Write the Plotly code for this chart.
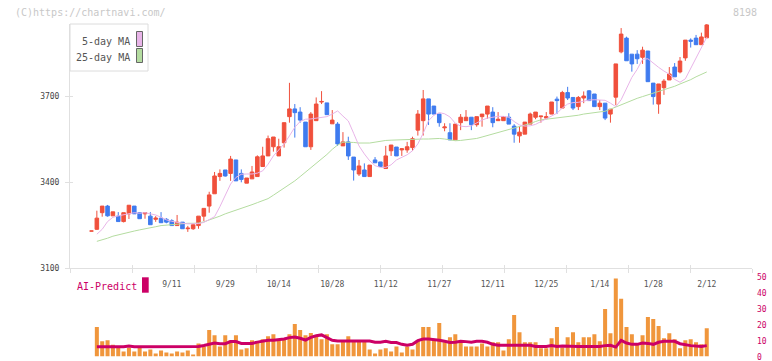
import plotly.graph_objects as go

# ---------------- data ----------------
tick_idx = [15, 25, 35, 45, 55, 65, 75, 85, 95, 105, 115]
tick_labels = ['9/11', '9/29', '10/14', '10/28', '11/12', '11/27', '12/11', '12/25', '1/14', '1/28', '2/12']

open_ = [3230,3236,3294,3317,3283,3282,3263,3290,3317,3294,
         3290,3282,3271,3275,3271,3266,3249,3261,3238,3238,
         3249,3282,3317,3360,3420,3443,3431,3478,3431,3397,
         3412,3420,3455,3492,3524,3492,3538,3629,3656,3645,
         3610,3524,3615,3680,3677,3604,3603,3527,3541,3488,
         3429,3443,3420,3478,3471,3448,3510,3523,3513,3513,
         3521,3582,3615,3691,3666,3638,3590,3573,3548,3608,
         3615,3627,3601,3629,3638,3645,3615,3615,3627,3596,
         3562,3568,3603,3627,3629,3624,3638,3690,3659,3713,
         3696,3664,3694,3719,3708,3664,3676,3638,3697,3855,
         3903,3847,3847,3836,3858,3746,3673,3730,3757,3802,
         3785,3834,3896,3903,3880,3904]
close = [3230,3275,3317,3283,3297,3263,3294,3320,3290,3273,
         3294,3252,3275,3259,3261,3249,3261,3238,3240,3252,
         3282,3309,3356,3422,3431,3422,3481,3405,3410,3415,
         3436,3489,3492,3552,3558,3524,3608,3656,3643,3617,
         3524,3638,3673,3682,3636,3617,3534,3541,3492,3443,
         3457,3420,3460,3468,3455,3492,3530,3492,3517,3524,
         3552,3638,3691,3638,3638,3608,3593,3548,3603,3627,
         3627,3601,3629,3638,3666,3608,3620,3629,3603,3568,
         3575,3610,3638,3645,3631,3629,3680,3685,3713,3694,
         3659,3696,3701,3685,3664,3676,3624,3655,3813,3917,
         3824,3813,3831,3861,3751,3699,3743,3753,3778,3768,
         3823,3896,3892,3880,3907,3949]
high = [3230,3301,3317,3321,3297,3296,3294,3320,3317,3294,
        3294,3296,3282,3296,3275,3271,3286,3261,3248,3257,
        3282,3309,3367,3436,3445,3443,3492,3478,3445,3415,
        3457,3494,3524,3563,3558,3552,3608,3747,3673,3662,
        3610,3645,3696,3718,3677,3652,3610,3575,3559,3488,
        3478,3466,3460,3488,3471,3527,3530,3523,3519,3541,
        3559,3652,3722,3691,3666,3638,3606,3606,3603,3638,
        3652,3627,3629,3638,3666,3662,3645,3629,3641,3603,
        3596,3610,3643,3645,3631,3645,3680,3699,3719,3733,
        3696,3701,3717,3722,3708,3687,3676,3655,3813,3938,
        3908,3847,3861,3873,3858,3746,3743,3760,3802,3816,
        3837,3896,3902,3914,3922,3952]
low = [3230,3234,3280,3280,3283,3263,3260,3272,3290,3273,
       3273,3252,3262,3259,3257,3249,3249,3238,3227,3234,
       3238,3265,3294,3360,3405,3420,3405,3405,3400,3397,
       3412,3420,3455,3492,3507,3492,3521,3608,3556,3608,
       3524,3513,3615,3673,3636,3604,3527,3527,3478,3406,
       3422,3420,3420,3468,3455,3448,3492,3492,3492,3503,
       3510,3563,3563,3600,3638,3594,3578,3548,3548,3582,
       3615,3582,3594,3594,3622,3592,3615,3615,3603,3538,
       3538,3568,3603,3620,3608,3620,3638,3638,3659,3687,
       3652,3652,3676,3685,3664,3652,3617,3608,3669,3850,
       3824,3786,3813,3813,3751,3671,3639,3705,3757,3768,
       3780,3824,3870,3880,3880,3904]

# moving averages / volume / AI-predict start at the second candle
ma5 = [3219,3236,3263,3278,3283,3287,3292,3294,3292,3294,
       3290,3286,3278,3269,3264,3260,3257,3255,3255,3256,
       3260,3269,3280,3315,3356,3394,3417,3428,3429,3429,
       3432,3440,3463,3492,3513,3534,3562,3592,3612,3620,
       3621,3623,3625,3629,3638,3649,3631,3614,3571,3527,
       3499,3475,3458,3452,3452,3461,3478,3487,3496,3510,
       3534,3571,3615,3634,3643,3639,3628,3606,3596,3594,
       3597,3607,3617,3624,3628,3630,3630,3627,3612,3600,
       3596,3597,3602,3612,3620,3629,3641,3659,3673,3678,
       3679,3683,3687,3688,3687,3686,3676,3664,3688,3728,
       3766,3794,3829,3831,3815,3801,3788,3777,3759,3749,
       3761,3797,3836,3867,3906]
ma25 = [3194,3199,3205,3212,3217,3222,3227,3230,3234,3237,
        3241,3245,3249,3251,3253,3255,3256,3257,3257,3258,
        3262,3268,3274,3282,3290,3296,3302,3309,3316,3322,
        3329,3335,3343,3355,3367,3380,3393,3405,3420,3435,
        3450,3464,3480,3497,3515,3530,3540,3540,3539,3537,
        3536,3537,3540,3544,3546,3547,3548,3549,3550,3550,
        3550,3551,3551,3552,3553,3551,3548,3545,3546,3548,
        3550,3553,3558,3563,3568,3574,3580,3585,3590,3594,
        3599,3605,3612,3618,3620,3622,3624,3626,3628,3630,
        3634,3638,3641,3643,3645,3648,3655,3663,3670,3678,
        3686,3693,3699,3705,3710,3716,3722,3728,3735,3743,
        3750,3758,3768,3777,3785]
volume = [18.4,9.5,10.1,7.4,5.5,3.2,5.5,3.2,5.5,3.2,
          4.4,1.9,3.8,2.5,1.9,3.2,2.5,3.8,1.3,8.2,
          6.3,16.5,13.3,6.3,13.3,10.1,13.3,4.4,5.1,10.1,
          8.9,10.8,12.7,13.9,10.8,11.4,13.9,20.3,16.5,13.3,
          14.7,13.0,10.8,13.9,7.6,7.6,9.5,12.7,9.5,9.5,
          9.5,4.4,1.9,4.4,5.1,3.2,6.3,2.5,6.3,4.4,
          10.1,18.4,18.4,10.1,20.9,8.9,12.0,13.9,8.9,6.3,
          6.3,6.3,8.2,6.3,8.9,8.9,3.8,10.8,25.9,15.2,
          8.9,8.9,8.9,5.1,5.1,11.4,18.4,5.7,12.0,15.2,
          8.9,12.0,12.0,13.9,9.5,29.7,14.6,48.7,36.1,18.4,
          13.9,7.6,13.3,24.7,23.4,19.0,11.4,14.6,10.8,5.1,
          10.1,10.8,8.9,7.6,17.7]
ai_predict = [6.1,6.1,6.1,6.1,6.1,6.1,6.6,6.1,6.1,6.1,
              6.1,6.1,6.1,6.1,6.1,6.1,6.1,6.1,6.1,6.3,
              6.9,7.8,8.4,8.0,8.0,9.3,9.3,8.2,8.0,8.2,
              9.0,9.7,10.1,10.1,10.3,10.9,11.8,12.2,11.4,10.3,
              12.0,13.0,13.5,11.8,10.1,9.7,9.7,9.7,9.7,9.7,
              9.7,9.7,8.9,8.9,9.5,8.7,8.7,7.6,7.0,7.6,
              9.9,10.9,10.9,10.7,10.1,9.5,8.7,8.9,9.5,9.3,
              8.9,9.5,9.5,8.9,7.6,7.0,7.0,7.0,7.0,7.0,
              7.0,7.0,6.3,6.3,6.3,6.8,6.3,6.5,6.3,6.3,
              6.3,6.3,6.3,6.3,6.3,6.8,7.0,5.9,10.1,8.4,
              7.6,7.6,8.4,8.2,7.6,8.9,9.5,9.5,9.5,8.0,
              7.2,6.8,6.5,6.3,6.8]

price_ticks = [3100, 3400, 3700]
volume_ticks = [0, 10, 20, 30, 40, 50]

# ---------------- layout helpers (pixel geometry) ----------------
W, H = 772, 361
X0, X1 = 70, 752            # plot left / right in px
Y_TOP, Y_BOT = 24, 268.3    # price panel
V_TOP, V_BOT = 276.5, 356.5  # volume panel (50 .. 0)
IDX0_PX, STEP_PX = 91.5, 5.35

def fx(p):
    return p / W

def fy(p):
    return 1 - p / H

xr = [(X0 - IDX0_PX) / STEP_PX, (X1 - IDX0_PX) / STEP_PX]
mark_pos = [(X0 + 62 * k - IDX0_PX) / STEP_PX for k in range(12)]
yr = [3100, 3100 + (Y_BOT - Y_TOP) * 300 / 86]

n = len(close)
xs = list(range(n))
xs_sub = xs[1:]

RED = '#F0503C'
BLUE = '#3F7BEF'
PINK = '#E8B4E8'
GREEN = '#B4DCA0'
ORANGE = '#F0963C'
MAG = '#CC0066'
AX = '#E0E0E0'
MONO = 'DejaVu Sans Mono'

fig = go.Figure()

fig.add_trace(go.Scatter(x=xs_sub, y=ma25, mode='lines', line=dict(color=GREEN, width=1),
                         xaxis='x', yaxis='y', showlegend=False, hoverinfo='skip'))
fig.add_trace(go.Scatter(x=xs_sub, y=ma5, mode='lines', line=dict(color=PINK, width=1),
                         xaxis='x', yaxis='y', showlegend=False, hoverinfo='skip'))
fig.add_trace(go.Candlestick(x=xs, open=open_, high=high, low=low, close=close,
                             increasing=dict(line=dict(color=RED, width=1), fillcolor=RED),
                             decreasing=dict(line=dict(color=BLUE, width=1), fillcolor=BLUE),
                             whiskerwidth=0, xaxis='x', yaxis='y', showlegend=False))
fig.add_trace(go.Bar(x=xs_sub, y=volume, marker=dict(color=ORANGE, line=dict(width=0)),
                     width=0.75, xaxis='x', yaxis='y2', showlegend=False))
fig.add_trace(go.Scatter(x=xs_sub, y=ai_predict, mode='lines', line=dict(color=MAG, width=3),
                         xaxis='x', yaxis='y2', showlegend=False))
# invisible anchors so the overlay tick-mark axes render
fig.add_trace(go.Scatter(x=[xr[0]], y=[yr[0]], xaxis='x2', yaxis='y', mode='markers',
                         marker=dict(opacity=0), showlegend=False, hoverinfo='skip'))
fig.add_trace(go.Scatter(x=[xr[0]], y=[yr[0]], xaxis='x3', yaxis='y3', mode='markers',
                         marker=dict(opacity=0), showlegend=False, hoverinfo='skip'))

common_x = dict(domain=[fx(X0), fx(X1)], range=xr, showgrid=False, zeroline=False,
                fixedrange=True, automargin=False)

fig.update_layout(
    width=W, height=H, autosize=False,
    margin=dict(l=0, r=0, t=0, b=0, pad=0),
    paper_bgcolor='white', plot_bgcolor='white',
    boxgap=0.05,
    showlegend=False,
    xaxis=dict(**common_x, anchor='y', showline=True, linecolor=AX, linewidth=1,
               tickmode='array', tickvals=tick_idx, ticktext=tick_labels, ticks='',
               tickfont=dict(family=MONO, size=8, color='#555555'),
               ticklabelstandoff=8, rangeslider=dict(visible=False)),
    xaxis2=dict(**common_x, anchor='y', overlaying='x', showline=False,
                tickmode='array', tickvals=mark_pos, ticks='outside', ticklen=4,
                tickcolor=AX, tickwidth=1, showticklabels=False),
    xaxis3=dict(**common_x, anchor='y', overlaying='x', showline=False,
                tickmode='array', tickvals=mark_pos, ticks='inside', ticklen=3,
                tickcolor=AX, tickwidth=1, showticklabels=False),
    yaxis=dict(domain=[fy(Y_BOT), fy(Y_TOP)], range=yr,
               anchor='x', showline=True, linecolor=AX, linewidth=1, showgrid=False, zeroline=False,
               tickmode='array', tickvals=price_ticks, ticks='outside', ticklen=4, tickcolor=AX,
               tickfont=dict(family=MONO, size=8, color='#444444'), ticklabelstandoff=4,
               fixedrange=True, automargin=False),
    yaxis3=dict(overlaying='y', anchor='x', range=yr,
                showline=False, showgrid=False, zeroline=False, tickmode='array',
                tickvals=price_ticks, ticks='inside', ticklen=3, tickcolor=AX,
                showticklabels=False, fixedrange=True, automargin=False),
    yaxis2=dict(domain=[fy(V_BOT), fy(V_TOP)], range=[0, 50], anchor='x', side='right',
                showline=False, showgrid=False, zeroline=False, tickmode='array',
                tickvals=volume_ticks, ticks='', ticklabelstandoff=4, ticklabelshift=1,
                ticklabeloverflow='allow',
                tickfont=dict(family=MONO, size=8, color=MAG), fixedrange=True,
                automargin=False),
)

shapes = [
    dict(type='rect', xref='paper', yref='paper', x0=fx(70), x1=fx(148), y0=fy(71), y1=fy(24),
         line=dict(color='#DCDCDC', width=1), fillcolor='white', layer='above'),
    dict(type='rect', xref='paper', yref='paper', x0=fx(136.5), x1=fx(142.5), y0=fy(46.5), y1=fy(31.5),
         line=dict(color='#666666', width=1), fillcolor=PINK, layer='above'),
    dict(type='rect', xref='paper', yref='paper', x0=fx(136.5), x1=fx(142.5), y0=fy(62.5), y1=fy(48.5),
         line=dict(color='#666666', width=1), fillcolor=GREEN, layer='above'),
    dict(type='rect', xref='paper', yref='paper', x0=fx(142), x1=fx(148.7), y0=fy(292.7), y1=fy(277.3),
         line=dict(width=0), fillcolor=MAG, layer='above'),
]

def note(text, x, y, anchor, color, size=10):
    return dict(text=text, xref='paper', yref='paper', x=fx(x), y=fy(y), xanchor=anchor,
                yanchor='middle', showarrow=False, borderpad=0,
                font=dict(family=MONO, size=size, color=color))

annotations = [
    note('(C)https://chartnavi.com/', 13.5, 12.5, 'left', '#C8C8C8'),
    note('8198', 757.5, 12.5, 'right', '#C8C8C8'),
    note('5-day MA', 130.5, 41.3, 'right', '#555555'),
    note('25-day MA', 130.5, 57.3, 'right', '#555555'),
    note('AI-Predict', 75.5, 286, 'left', MAG),
]

fig.update_layout(shapes=shapes, annotations=annotations)

fig.write_html('out.html', config={'displayModeBar': False, 'staticPlot': True},
               post_script="document.body.style.margin='0';document.body.style.overflow='hidden';")
